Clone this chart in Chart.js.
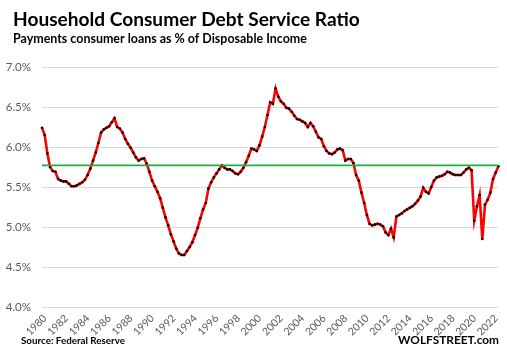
<!DOCTYPE html>
<html><head><meta charset="utf-8">
<script src="https://cdn.jsdelivr.net/npm/chart.js@4.4.0/dist/chart.umd.min.js"></script>
<style>html,body{margin:0;padding:0;background:#fff}canvas{display:block}</style>
</head><body>
<canvas id="c" width="507" height="360"></canvas>
<script>
const titleText = "Household Consumer Debt Service Ratio";
const subtitleText = "Payments consumer loans as % of Disposable Income";
const sourceText = "Source: Federal Reserve";
const brandText = "WOLFSTREET.com";

// quarterly categories 1980 Q1 .. 2022 Q3
const categories = [];
for (let y = 1980; y <= 2022; y++) {
  for (let q = 1; q <= 4; q++) {
    if (y === 2022 && q > 3) break;
    categories.push(y + " Q" + q);
  }
}
const tickYears = ["1980","1982","1984","1986","1988","1990","1992","1994","1996","1998","2000",
  "2002","2004","2006","2008","2010","2012","2014","2016","2018","2020","2022"];

const debtServiceRatio = [
  6.24,6.15,5.92,5.75,5.70,5.69,5.60,5.58,5.57,5.57,
  5.54,5.51,5.51,5.52,5.54,5.56,5.59,5.65,5.73,5.83,
  5.93,6.05,6.18,6.22,6.24,6.26,6.31,6.36,6.25,6.23,
  6.18,6.10,6.04,5.99,5.93,5.87,5.83,5.85,5.86,5.79,
  5.69,5.58,5.51,5.44,5.36,5.24,5.12,5.02,4.91,4.82,
  4.73,4.67,4.65,4.65,4.70,4.75,4.81,4.90,4.99,5.11,
  5.22,5.30,5.48,5.56,5.62,5.67,5.72,5.77,5.74,5.72,
  5.72,5.70,5.67,5.66,5.69,5.74,5.81,5.89,5.98,5.97,
  5.95,6.02,6.13,6.25,6.40,6.56,6.54,6.73,6.63,6.57,
  6.54,6.49,6.48,6.44,6.39,6.35,6.34,6.32,6.30,6.25,
  6.30,6.26,6.19,6.12,6.10,6.01,5.95,5.92,5.91,5.93,
  5.97,5.98,5.96,5.83,5.85,5.85,5.80,5.65,5.58,5.43,
  5.30,5.15,5.04,5.02,5.03,5.04,5.03,5.01,4.93,4.90,
  4.98,4.87,5.13,5.15,5.17,5.20,5.22,5.24,5.26,5.29,
  5.33,5.38,5.49,5.44,5.42,5.50,5.58,5.62,5.63,5.64,
  5.66,5.69,5.68,5.66,5.65,5.65,5.65,5.68,5.72,5.74,
  5.71,5.08,5.26,5.40,4.85,5.28,5.34,5.43,5.60,5.68,5.76
];
const averageRatio = 5.77;
const averageLine = categories.map(() => averageRatio);

const FONT = "Lato, 'Open Sans', 'Liberation Sans', sans-serif";

function fitText(ctx, text, x, y, width, align) {
  ctx.font = "bold 20px " + FONT;
  const w = ctx.measureText(text).width;
  const size = 20 * width / w;
  ctx.font = "bold " + size.toFixed(2) + "px " + FONT;
  ctx.textAlign = align;
  ctx.textBaseline = "alphabetic";
  ctx.fillText(text, x, y);
}

const textPlugin = {
  id: "texts",
  afterDraw(chart) {
    const ctx = chart.ctx;
    ctx.save();
    ctx.fillStyle = "#000";
    fitText(ctx, titleText, 13, 26, 347, "left");
    fitText(ctx, subtitleText, 13, 43, 294, "left");
    fitText(ctx, sourceText, 21, 344, 104, "left");
    fitText(ctx, brandText, 499, 344, 101, "right");
    ctx.restore();
  }
};

new Chart(document.getElementById("c"), {
  type: "line",
  data: {
    labels: categories,
    datasets: [
      {
        label: "Average",
        data: averageLine,
        borderColor: "#1fae45",
        borderWidth: 1.6,
        pointRadius: 0,
        tension: 0
      },
      {
        label: "Debt service ratio",
        data: debtServiceRatio,
        borderColor: "#ff0000",
        borderWidth: 2.6,
        pointRadius: 1.3,
        pointBackgroundColor: "#000",
        pointBorderColor: "#000",
        pointBorderWidth: 0,
        tension: 0
      }
    ]
  },
  options: {
    responsive: false,
    devicePixelRatio: 1,
    animation: false,
    events: [],
    layout: { padding: { top: 67, right: 4, left: 0, bottom: 0 } },
    plugins: { legend: { display: false }, tooltip: { enabled: false }, title: { display: false } },
    scales: {
      x: {
        offset: false,
        grid: { display: false, drawTicks: false },
        border: { display: false },
        ticks: {
          autoSkip: false,
          minRotation: 45,
          maxRotation: 45,
          padding: 5,
          labelOffset: 3,
          color: "#595959",
          font: { family: FONT, size: 10.5 },
          callback: (v, i) => (i % 8 === 0 ? tickYears[i / 8] : null)
        },
        afterFit: (s) => { s.height = 53; }
      },
      y: {
        min: 4,
        max: 7,
        grid: { color: "#d9d9d9", lineWidth: 1, drawTicks: false },
        border: { display: false },
        ticks: {
          stepSize: 0.5,
          padding: 11,
          color: "#595959",
          font: { family: FONT, size: 11.5 },
          callback: (v) => v.toFixed(1) + "%"
        },
        afterFit: (s) => { s.width = 42; }
      }
    }
  },
  plugins: [textPlugin]
});
</script>
</body></html>
